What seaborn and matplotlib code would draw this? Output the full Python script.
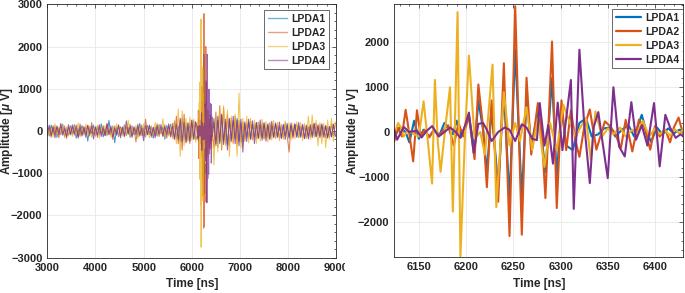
import numpy as np
import pandas as pd
import matplotlib
matplotlib.use("Agg")
import matplotlib.pyplot as plt
import seaborn as sns
from matplotlib.ticker import MultipleLocator, AutoMinorLocator
from matplotlib.lines import Line2D
from matplotlib.patches import Rectangle

# ---------------- data ----------------
antennas = ["LPDA1", "LPDA2", "LPDA3", "LPDA4"]
colors = ["#0072BD", "#D95319", "#EDB120", "#7E2F8E"]

# coarse sampling of the full trace (outside the zoomed window)
t_pre = list(range(3000, 6120, 40))    # 3000 .. 6080 ns
t_post = list(range(6460, 9000, 40))   # 6460 .. 8980 ns

lpda1_pre = [90, -120, 140, -60, 110, -150, 70, -90, 160, -130, 50, -100, 120,
             -80, 150, -170, 60, -110, 130, -70, 100, -240, 80, -60, 140, -120,
             110, -90, 170, -140, 60, -100, 250, -80, 120, -280, 90, -130, 100,
             -60, 140, -110, 80, -150, 120, -90, 60, -130, 180, -100, 70, -140,
             130, -80, 110, -170, 90, -120, 150, -60, 100, -190, 130, -90, 160,
             -140, 220, -180, 120, -250, 300, -200, 150, -220, 180, -160, 240, -200]
lpda2_pre = [-110, 80, -150, 130, -70, 100, -160, 140, -60, 120, -180, 90, -80,
             150, -100, 60, -130, 170, -90, 110, -70, 140, -120, 200, -80, 100,
             -150, 90, -60, 130, -110, 160, -90, 70, -200, 120, -80, 150, -100,
             90, -140, 110, -70, 160, -120, 80, -260, 100, -90, 140, -110, 280,
             -80, 120, -150, 90, -100, 170, -130, 60, -110, 150, -170, 120, -90,
             180, -200, 350, -300, 260, -450, 400, -250, 200, -300, 250, -200, 220]
lpda3_pre = [130, -90, 60, -140, 170, -110, 90, -70, 130, -160, 100, -120, 80,
             -130, 110, -80, 190, -140, 70, -100, 160, -90, 120, -150, 60, -110,
             140, -170, 100, -60, 130, -120, 90, -150, 110, -80, 170, -100, 60,
             -120, 150, -90, 260, -140, 100, -70, 130, -180, 90, -110, 170, -130,
             80, -160, 120, -90, 200, -110, 140, -70, 290, -150, 90, -120, 110,
             -180, 250, -300, 520, -600, 480, -350, 300, -250, 330, -220, 280, -260]
lpda4_pre = [-70, 140, -110, 90, -160, 120, -80, 180, -100, 60, -130, 150, -90,
             110, -60, 140, -170, 100, -120, 80, -150, 130, -70, 110, -190, 90,
             -100, 150, -130, 70, -110, 180, -80, 120, -140, 60, -100, 130, -160,
             90, -120, 240, -70, 110, -150, 100, -90, 160, -120, 70, -230, 130,
             -90, 140, -110, 80, -160, 120, -70, 150, -130, 100, -80, 170, -140,
             110, -190, 160, -210, 300, -250, 200, -280, 180, -240, 260, -190, 210]

lpda1_post = [300, -350, 250, -300, 380, -250, 200, -330, 280, -200, 250, -180, 300, -240, 200, -260,
              180, -150, 220, -190, 160, -140, 200, -170, 130, -160, 190, -120, 150, -180, 110, -140,
              170, -130, 100, -160, 140, -110, 180, -150, 120, -90, 160, -130, 100, -150, 130, -180,
              90, -120, 150, -100, 170, -130, 110, -160, 140, -90, 120, -150, 100, -130, 160, -110]
lpda2_post = [-400, 450, -380, 600, -450, 550, -300, 400, -350, 300, -280, 350, -300, 250, -260, 200,
              -220, 180, -160, 230, -200, 150, -180, 210, -140, 170, -190, 120, -160, 200, -130, 150,
              -170, 140, -180, 120, -150, 190, -110, -500, 130, -170, 120, 140, -160, 110, -150, 130,
              -170, 100, -140, 160, -120, 180, -110, 150, -130, 120, -160, 100, -140, 170, -120, 150]
lpda3_post = [-800, 300, -500, 550, -400, 600, -350, 500, -600, 350, -300, 400, -600, 900, -400, 300,
              -250, 350, -280, 300, -220, 260, -300, 200, -240, 280, -180, 230, -260, 190, -220, 250,
              -170, 210, -230, 160, -200, 240, -150, 190, -210, 170, -180, 220, -140, 200, -230, 180,
              -160, 350, -200, 380, -150, 250, -350, 200, -300, 180, -400, 260, -200, 300, -250, 220]
lpda4_post = [200, -300, 350, -250, 400, -320, 280, -450, 300, -250, 350, -300, 260, -350, 280, -500,
              220, -250, 280, -200, 240, -300, 200, -180, 260, -220, 190, -240, 170, -200, 230, -160,
              190, -150, 210, -180, 160, -200, 140, -170, 190, -130, 170, -150, 200, -120, 160, -180,
              140, -190, 120, -160, 180, -140, 150, -120, 170, -150, 130, -170, 110, -140, 160, -130]

# zoomed window: turning points
lpda1_t = [6124, 6130, 6136, 6140, 6145, 6150, 6155, 6161, 6166, 6172, 6177, 6181, 6186, 6190,
           6195, 6203, 6209, 6213, 6218, 6222, 6227, 6234, 6240, 6246, 6252, 6259, 6264, 6269,
           6276, 6280, 6284, 6291, 6296, 6301, 6306, 6313, 6320, 6327, 6333, 6340, 6346, 6352,
           6358, 6365, 6372, 6378, 6386, 6391, 6396, 6402, 6408, 6414, 6420, 6426, 6430]
lpda1_v = [-100, 100, 0, -230, 250, -150, 50, -100, 30, -60, 200, 100, -50, 250,
           -100, 350, -400, 700, 50, -900, 500, -1200, 900, -1500, 1820, -1470, 750, -300,
           450, -100, -890, 1190, -1000, 550, -300, -400, 200, 300, -100, -50, 80, 100,
           -100, 50, 150, -100, 380, 0, -220, 100, -50, 80, -30, 50, 0]

lpda2_t = [6124, 6128, 6132, 6136, 6140, 6144, 6148, 6152, 6156, 6161, 6166, 6171, 6176, 6181,
           6187, 6192, 6197, 6203, 6209, 6213, 6218, 6222, 6227, 6234, 6240, 6246, 6252, 6259,
           6264, 6269, 6276, 6280, 6284, 6291, 6296, 6301, 6306, 6311, 6316, 6320, 6325, 6331,
           6338, 6347, 6353, 6358, 6364, 6369, 6376, 6383, 6389, 6395, 6400, 6405, 6411, 6416,
           6420, 6425, 6430]
lpda2_v = [-200, 100, -100, 490, -50, -650, 480, -100, 50, -120, 60, -80, 40, 150,
           -300, 200, -100, 350, -600, 1050, 100, -1220, 700, -1540, 1520, -2300, 2780, -2270,
           1200, -500, 640, 0, -1460, 2000, -1680, 700, -400, 480, -200, -550, 100, 500,
           -390, 235, 120, -50, -350, 270, -430, 270, 100, -390, 130, -100, 50, -230,
           100, 320, -60]

lpda3_t = [6124, 6128, 6131, 6134, 6139, 6145, 6150, 6155, 6159, 6164, 6167, 6170, 6173, 6178,
           6183, 6186, 6191, 6194, 6199, 6203, 6209, 6215, 6220, 6228, 6232, 6240, 6246, 6252,
           6257, 6264, 6270, 6276, 6283, 6289, 6296, 6303, 6310, 6316, 6321, 6327, 6332, 6337,
           6344, 6350, 6356, 6363, 6369, 6376, 6381, 6387, 6394, 6400, 6405, 6410, 6416, 6421,
           6426, 6430]
lpda3_v = [-50, 200, 100, -100, 50, -50, -100, 680, -100, -1140, 1150, -200, -880, 100,
           990, -1760, 2650, -2750, 0, 1690, -150, 0, -500, 1490, -1660, 880, -300, 200,
           -200, 550, -400, 300, -770, 200, -400, 600, 200, -100, 100, 300, -610, 455,
           -100, 80, -50, 100, -100, 50, -50, 250, -100, 80, -50, 50, -80, 60,
           -30, 50]

lpda4_t = [6124, 6127, 6134, 6140, 6148, 6153, 6158, 6164, 6171, 6177, 6183, 6189, 6194, 6199,
           6203, 6208, 6213, 6218, 6222, 6227, 6234, 6241, 6246, 6252, 6259, 6264, 6270, 6275,
           6278, 6283, 6287, 6292, 6297, 6302, 6306, 6311, 6314, 6320, 6325, 6331, 6335, 6340,
           6345, 6350, 6356, 6362, 6368, 6375, 6380, 6386, 6392, 6399, 6405, 6411, 6416, 6422,
           6427, 6430]
lpda4_v = [50, -170, 110, 0, 30, -120, 20, 130, -100, 0, 100, 0, -130, 150,
           430, -460, 180, 200, 50, -200, 0, 100, 50, -200, 170, 100, -150, -180,
           640, -300, 150, -700, 650, -400, 300, 1150, -1700, 1820, 200, -1130, 100, 440,
           -300, -1020, 990, -320, -540, 660, -170, 150, -300, 640, -760, 380, 100, -130,
           -50, -100]

pre = [lpda1_pre, lpda2_pre, lpda3_pre, lpda4_pre]
post = [lpda1_post, lpda2_post, lpda3_post, lpda4_post]
zt = [lpda1_t, lpda2_t, lpda3_t, lpda4_t]
zv = [lpda1_v, lpda2_v, lpda3_v, lpda4_v]

left_rows, right_rows = [], []
for name, a, b, t, v in zip(antennas, pre, post, zt, zv):
    assert len(a) == len(t_pre), (name, len(a))
    assert len(b) == len(t_post), (name, len(b))
    assert len(t) == len(v), (name, len(t), len(v))
    for x, y in zip(t_pre + t + t_post, a + v + b):
        left_rows.append((name, x, y))
    for x, y in zip(t, v):
        right_rows.append((name, x, y))
df_left = pd.DataFrame(left_rows, columns=["antenna", "time", "amp"])
df_right = pd.DataFrame(right_rows, columns=["antenna", "time", "amp"])

# ---------------- style ----------------
sns.set_theme(style="white")
plt.rcParams["font.family"] = ["Liberation Sans", "DejaVu Sans"]
plt.rcParams["font.weight"] = "bold"
plt.rcParams["axes.labelweight"] = "bold"
plt.rcParams["mathtext.fontset"] = "custom"
plt.rcParams["mathtext.it"] = "Liberation Sans:italic:bold"
plt.rcParams["mathtext.rm"] = "Liberation Sans:bold"

fig = plt.figure(figsize=(6.85, 2.93), dpi=100)
ax1 = fig.add_axes([47.3 / 685, 1 - 257.7 / 293, 289 / 685, 253.4 / 293])
ax2 = fig.add_axes([394.3 / 685, 1 - 257.3 / 293, 289 / 685, 253.3 / 293])

sns.lineplot(data=df_left, x="time", y="amp", hue="antenna", palette=colors,
             estimator=None, sort=False, lw=0.75, alpha=0.75, legend=False, ax=ax1)
sns.lineplot(data=df_right, x="time", y="amp", hue="antenna", palette=colors,
             estimator=None, sort=False, lw=1.5, legend=False, ax=ax2)

ax1.set_xlim(3000, 9000)
ax1.set_ylim(-3000, 3000)
ax1.xaxis.set_major_locator(MultipleLocator(1000))
ax1.yaxis.set_major_locator(MultipleLocator(1000))
ax2.set_xlim(6124, 6430)
ax2.set_ylim(-2770, 2830)
ax2.xaxis.set_major_locator(MultipleLocator(50))
ax2.yaxis.set_major_locator(MultipleLocator(1000))

settings = [
    (ax1, 1.0, 0.55, 1.9, (1 - 7 / 289, 1 - 6 / 253.4), -0.111),
    (ax2, 1.6, 1.0, 2.4, (1 - 0.6 / 289, 1 - 5.3 / 253.3), -0.114),
]
for ax, lw_h, alpha_h, hlen, anchor, ylab_x in settings:
    ax.xaxis.set_minor_locator(AutoMinorLocator(5))
    ax.yaxis.set_minor_locator(AutoMinorLocator(5))
    ax.grid(True, which="major", color="#e8e8e8", lw=0.6)
    ax.set_axisbelow(True)
    ax.tick_params(which="both", direction="in", top=True, right=True,
                   colors="#262626", labelsize=8, pad=3.5)
    ax.tick_params(which="major", length=3, width=0.5)
    ax.tick_params(which="minor", length=1.6, width=0.5)
    for s in ax.spines.values():
        s.set_color("#262626")
        s.set_linewidth(0.6)
    for lab in ax.get_xticklabels() + ax.get_yticklabels():
        lab.set_fontweight("bold")
    ax.set_xlabel("Time [ns]", fontsize=8.6, labelpad=4)
    ax.set_ylabel(r"Amplitude [$\mu$ V]", fontsize=8.5)
    ax.yaxis.set_label_coords(ylab_x, 0.5)
    handles = [Line2D([], [], color=c, lw=lw_h, alpha=alpha_h) for c in colors]
    leg = ax.legend(handles, antennas, loc="upper right", bbox_to_anchor=anchor,
                    fontsize=7.5, frameon=True, fancybox=False, edgecolor="#262626",
                    borderpad=0.35, labelspacing=0.38, handlelength=hlen,
                    handletextpad=0.4, borderaxespad=0)
    leg.get_frame().set_linewidth(0.6)
    for txt in leg.get_texts():
        txt.set_fontweight("bold")

# the left image is cut at its right edge in the reference
fig.add_artist(Rectangle((345 / 685, 0), 5 / 685, 30 / 293, transform=fig.transFigure,
                         facecolor="white", edgecolor="none", zorder=10))

fig.savefig("out.png", dpi=100)
